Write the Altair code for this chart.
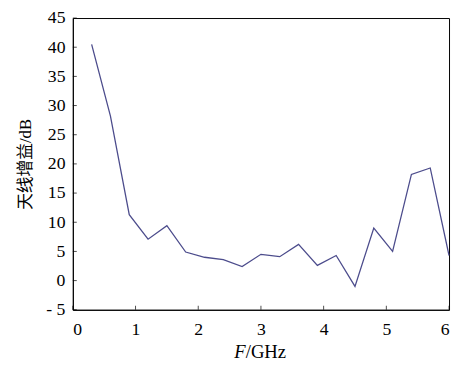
import altair as alt
import pandas as pd

freq = [0.3, 0.6, 0.9, 1.2, 1.5, 1.8, 2.1, 2.4, 2.7, 3.0, 3.3, 3.6, 3.9, 4.2, 4.5, 4.8, 5.1, 5.4, 5.7, 6.0]
gain = [40.5, 28.2, 11.3, 7.1, 9.4, 4.9, 4.0, 3.6, 2.4, 4.5, 4.1, 6.2, 2.6, 4.3, -1.0, 9.0, 5.0, 18.2, 19.3, 4.3]
x_ticks = [0, 1, 2, 3, 4, 5, 6]
y_ticks = [-5, 0, 5, 10, 15, 20, 25, 30, 35, 40, 45]

NUMF = "Liberation Serif"
CJKF = "Liberation Serif, Noto Sans CJK SC"
W, H = 383, 297

df = pd.DataFrame({"f": freq, "g": gain})
xt = pd.DataFrame({"v": x_ticks})
yt = pd.DataFrame({"v": y_ticks})

xscale = alt.Scale(domain=[0, 6], nice=False, zero=False)
yscale = alt.Scale(domain=[-5, 45], nice=False, zero=False)

xaxis = alt.Axis(values=x_ticks, title=None, tickSize=0, labelPadding=11,
                 grid=False, labelFontSize=18, labelFont=NUMF, labelOverlap=False,
                 labelColor="black", domainColor="black", format="d")
yaxis = alt.Axis(values=y_ticks, title="天线增益/dB", tickSize=0, labelPadding=8,
                 grid=False, labelFontSize=18, labelFont=NUMF, labelOverlap=False,
                 labelColor="black", domainColor="black",
                 labelExpr="datum.value < 0 ? '- ' + format(-datum.value, 'd') : datum.label",
                 titleFont=CJKF, titleFontSize=17, titleFontWeight="normal",
                 titleColor="black", titlePadding=12)

line = alt.Chart(df).mark_line(color="#4c4c8c", strokeWidth=1.3).encode(
    x=alt.X("f:Q", scale=xscale, axis=xaxis),
    y=alt.Y("g:Q", scale=yscale, axis=yaxis),
)

yticks = alt.Chart(yt).mark_tick(orient="horizontal", color="black", size=4, thickness=1).encode(
    y=alt.Y("v:Q", scale=yscale, axis=yaxis), x=alt.value(2)
)
xticks = alt.Chart(xt).mark_tick(orient="vertical", color="black", size=4, thickness=1).encode(
    x=alt.X("v:Q", scale=xscale, axis=xaxis), y=alt.value(H - 2)
)

t1 = alt.Chart(pd.DataFrame({"t": ["F"]})).mark_text(
    font=NUMF, fontSize=19, fontStyle="italic", align="right", baseline="alphabetic", color="black"
).encode(text="t:N", x=alt.value(176), y=alt.value(346))
t2 = alt.Chart(pd.DataFrame({"t": ["/GHz"]})).mark_text(
    font=NUMF, fontSize=19, align="left", baseline="alphabetic", color="black"
).encode(text="t:N", x=alt.value(176), y=alt.value(346))

chart = alt.layer(line, yticks, xticks, t1, t2).properties(
    width=W, height=H,
    autosize=alt.AutoSizeParams(type="none"),
    padding={"left": 66, "top": 7, "right": 2, "bottom": 52},
    background="white",
).configure_view(stroke="black", strokeWidth=1).configure_axis(
    labelFont=NUMF, titleFont=CJKF, labelFontSize=18, titleFontSize=17,
    titleFontWeight="normal", labelColor="black", titleColor="black"
)

chart.save("out.html", embed_options={"renderer": "svg", "actions": False})
